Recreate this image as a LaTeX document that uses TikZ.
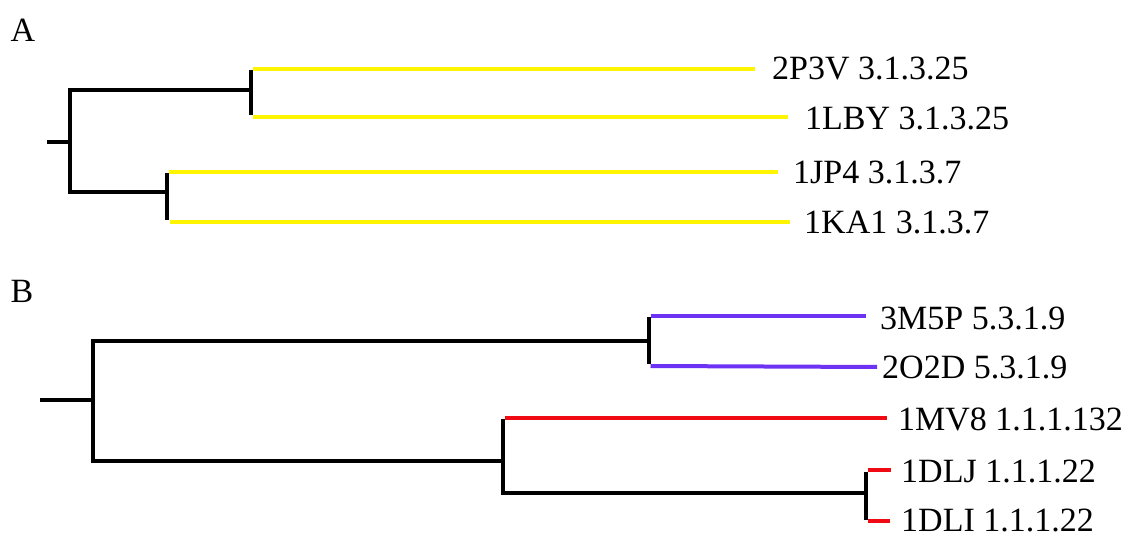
\documentclass[tikz,border=0pt]{standalone}
\usepackage{fontspec}
\setmainfont{Liberation Serif}
\definecolor{leafyellow}{RGB}{255,245,0}
\definecolor{leafpurple}{RGB}{110,50,245}
\definecolor{leafred}{RGB}{240,10,20}
\tikzset{
  blk/.style={draw=black,line width=3.5pt,line join=miter},
  yel/.style={draw=leafyellow,line width=4.5pt},
  pur/.style={draw=leafpurple,line width=4pt},
  redl/.style={draw=leafred,line width=4pt},
  lab/.style={anchor=west,inner sep=0pt,font=\fontsize{34}{40}\selectfont},
  panel/.style={inner sep=0pt,font=\fontsize{34}{40}\selectfont}
}
\begin{document}
\begin{tikzpicture}[x=1pt,y=-1pt]
\useasboundingbox[fill=white] (0,0) rectangle (1128,537);
% ---------------- Panel A ----------------
\node[panel] (pA) at (23,30) {A};
\coordinate (Ar0) at (47,142);
\coordinate (Ar) at (70,142);
\coordinate (An1) at (251,90);
\coordinate (An2) at (167,192);
\coordinate (A1a) at (251,69);
\coordinate (A1b) at (251,117);
\coordinate (A2a) at (167,172);
\coordinate (A2b) at (167,222);
\draw[blk] (Ar0) -- (Ar);
\draw[blk] (An1) -| (Ar) |- (An2);
\draw[blk] ([yshift=-1.5pt]A1a) -- ([yshift=1.5pt]A1b);
\draw[blk] ([yshift=-1.5pt]A2a) -- ([yshift=1.5pt]A2b);
\coordinate (Ae1) at (755,69);
\coordinate (Ae2) at (788,117);
\coordinate (Ae3) at (778,172);
\coordinate (Ae4) at (790,222);
\draw[yel] ([xshift=1.5pt]A1a) -- (Ae1);
\draw[yel] ([xshift=1.5pt]A1b) -- (Ae2);
\draw[yel] ([xshift=1.5pt]A2a) -- (Ae3);
\draw[yel] ([xshift=2.5pt]A2b) -- (Ae4);
\node[lab] (t1) at (772,69) {2P3V 3.1.3.25};
\node[lab] (t2) at (805,118) {1LBY 3.1.3.25};
\node[lab] (t3) at (793,172) {1JP4 3.1.3.7};
\node[lab] (t4) at (804,222) {1KA1 3.1.3.7};
% ---------------- Panel B ----------------
\node[panel] (pB) at (22,291) {B};
\coordinate (Br0) at (40,400);
\coordinate (Br) at (93,400);
\coordinate (Bn1) at (649,341);
\coordinate (Bn2) at (503,461);
\coordinate (B1a) at (649,316);
\coordinate (B1b) at (649,366);
\coordinate (B2a) at (503,418);
\coordinate (B2b) at (503,493);
\coordinate (Bn3) at (866,493);
\coordinate (B3a) at (866,470);
\coordinate (B3b) at (866,521);
\draw[blk] (Br0) -- (Br);
\draw[blk] (Bn1) -| (Br) |- (Bn2);
\draw[blk] ([yshift=-1.5pt]B1a) -- ([yshift=1.5pt]B1b);
\draw[blk] ([yshift=-1.5pt]B2a) |- (Bn3);
\draw[blk] ([yshift=-1.5pt]B3a) -- ([yshift=1.5pt]B3b);
\coordinate (Be1) at (866,316);
\coordinate (Be2) at (877,367);
\coordinate (Be3) at (887,418);
\coordinate (Be4) at (891,470);
\coordinate (Be5) at (890,521);
\draw[pur] ([xshift=1.5pt]B1a) -- (Be1);
\draw[pur] ([xshift=1.5pt]B1b) -- (Be2);
\draw[redl] ([xshift=1.5pt]B2a) -- (Be3);
\draw[redl] ([xshift=1.5pt]B3a) -- (Be4);
\draw[redl] ([xshift=1.5pt]B3b) -- (Be5);
\node[lab] (u1) at (880,318) {3M5P 5.3.1.9};
\node[lab] (u2) at (882,367) {2O2D 5.3.1.9};
\node[lab] (u3) at (898,419) {1MV8 1.1.1.132};
\node[lab] (u4) at (901,471) {1DLJ 1.1.1.22};
\node[lab] (u5) at (901,520) {1DLI 1.1.1.22};
\end{tikzpicture}
\end{document}
